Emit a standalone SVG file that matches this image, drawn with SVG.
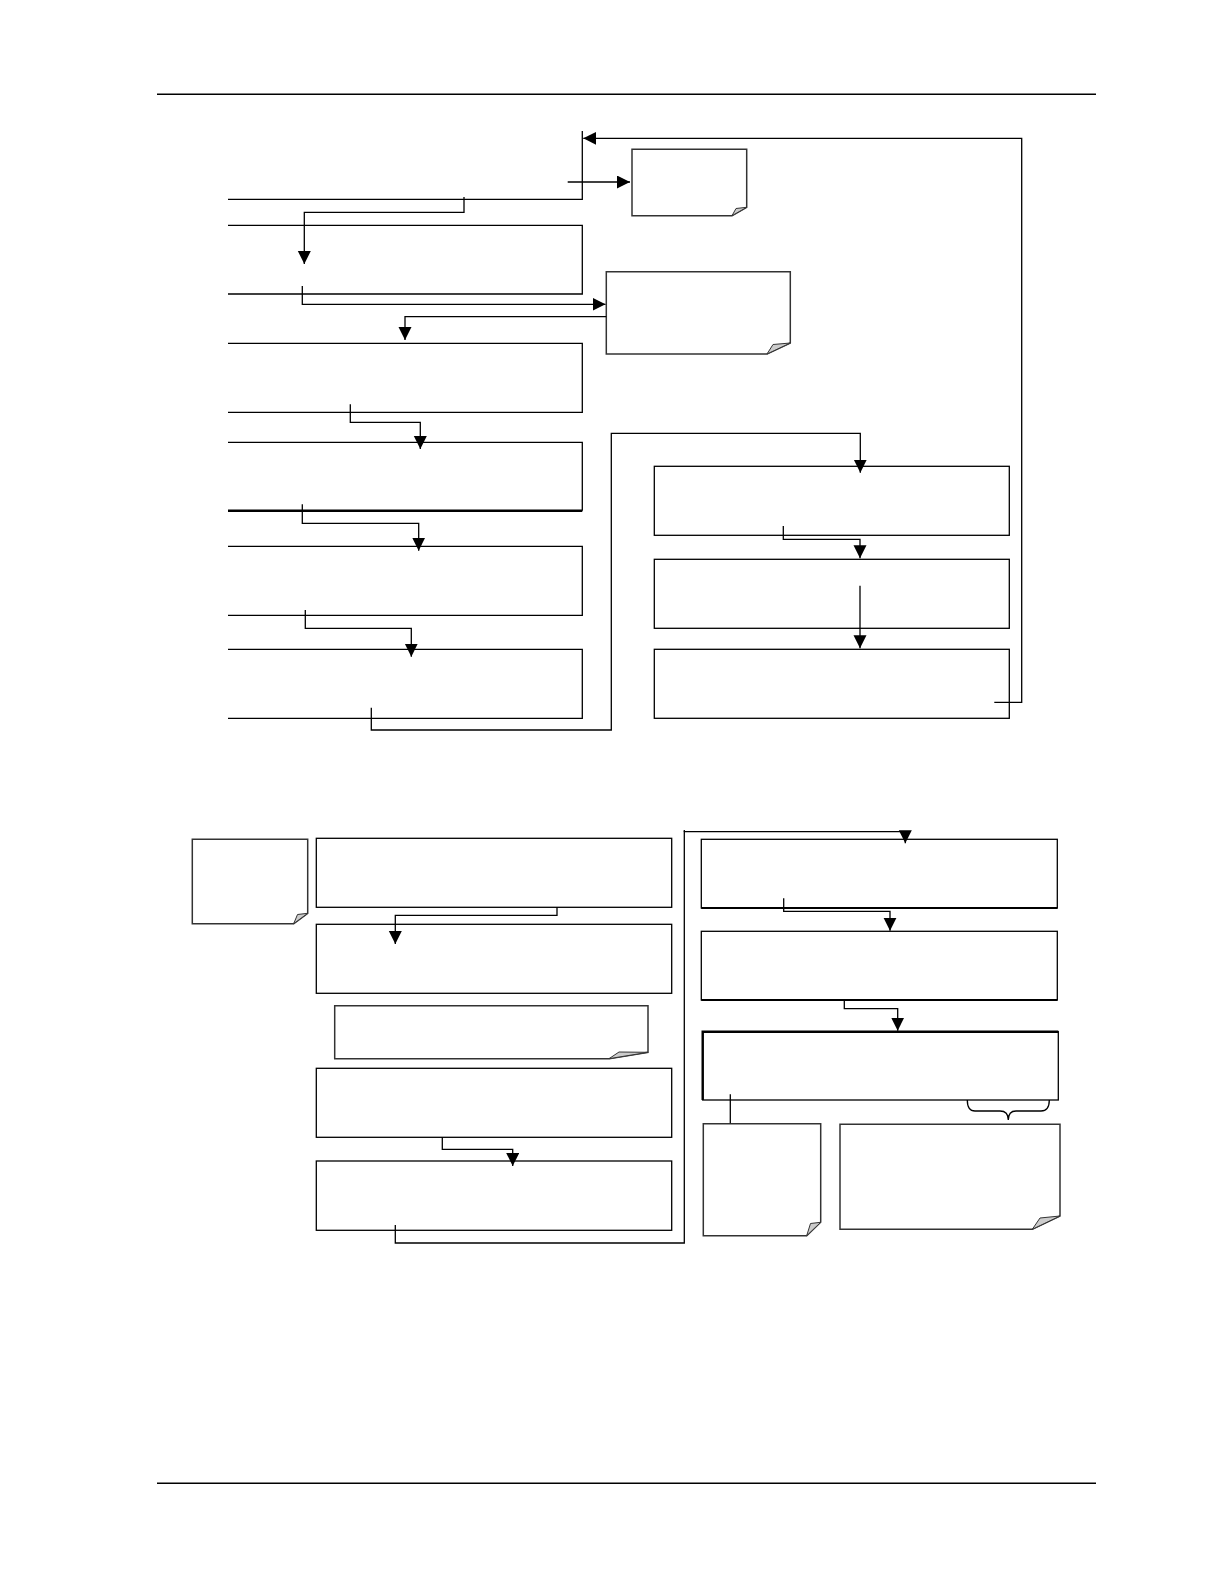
<svg xmlns="http://www.w3.org/2000/svg" width="1224" height="1584" viewBox="0 0 1224 1584">
<style>
.box{fill:none;stroke:#000;stroke-width:1.3}
.note{fill:#fff;stroke:#333;stroke-width:1.5}
.fold{fill:#ccc;stroke:#333;stroke-width:1}
.con{fill:none;stroke:#000;stroke-width:1.3}
.arr{marker-end:url(#ah)}
.rule{stroke:#000;stroke-width:1.5}
</style>
<defs>
<marker id="ah" markerUnits="userSpaceOnUse" markerWidth="15" markerHeight="15" refX="13" refY="6.5" orient="auto">
<path d="M0,0 L13,6.5 L0,13 z" fill="#000"/>
</marker>
</defs>
<rect width="1224" height="1584" fill="#fff"/>
<line class="rule" x1="157" y1="94.3" x2="1096" y2="94.3"/>
<line class="rule" x1="157" y1="1483.3" x2="1096" y2="1483.3"/>

<g id="nodes">
<g id="box0"><path class="box" d="M228,199.3 H582.3 V131"/></g>
<g id="box2"><path class="box" d="M228,225.3 H582.3 V294 H228"/></g>
<g id="box3"><path class="box" d="M228,343.3 H582.3 V412.3 H228"/></g>
<g id="box4"><path class="box" d="M228,442.3 H582.3 V510.7"/><line x1="228" y1="510.7" x2="582.3" y2="510.7" stroke="#000" stroke-width="2.4"/></g>
<g id="box5"><path class="box" d="M228,546.3 H582.3 V615.3 H228"/></g>
<g id="box6"><path class="box" d="M228,649.3 H582.3 V718.3 H228"/></g>

<g id="note1"><path class="note" d="M632,149.3 H746.7 V207.3 L732,215.7 H632 Z"/><path class="fold" d="M732,215.7 L746.7,207.3 L736,208.5 Z"/></g>
<g id="note2"><path class="note" d="M606.3,271.7 H790.3 V343 L767,354 H606.3 Z"/><path class="fold" d="M767,354 L790.3,343 L773,344.5 Z"/></g>

<g id="r1"><rect class="box" x="654.3" y="466.3" width="355" height="69"/></g>
<g id="r2"><rect class="box" x="654.3" y="559.3" width="355" height="69"/></g>
<g id="r3"><rect class="box" x="654.3" y="649.3" width="355" height="69"/></g>

<g id="noteL"><path class="note" d="M192.3,839.3 H307.7 V913.3 L293.7,923.7 H192.3 Z"/><path class="fold" d="M293.7,923.7 L307.7,913.3 L297.5,914.5 Z"/></g>
<g id="b1"><rect class="box" x="316.3" y="838.3" width="355.4" height="69"/></g>
<g id="b2"><rect class="box" x="316.3" y="924.3" width="355.4" height="69"/></g>
<g id="noteB"><path class="note" d="M334.7,1005.7 H648 V1052.3 L609,1058.7 H334.7 Z"/><path class="fold" d="M609,1058.7 L648,1052.3 L619,1052 Z"/></g>
<g id="b3"><rect class="box" x="316.3" y="1068.3" width="355.4" height="69"/></g>
<g id="b4"><rect class="box" x="316.3" y="1161" width="355.4" height="69.3"/></g>

<g id="c1"><rect class="box" x="701.3" y="839.3" width="356" height="68.7"/><line x1="701.3" y1="908" x2="1057.3" y2="908" stroke="#000" stroke-width="2.2"/></g>
<g id="c2"><rect class="box" x="701.3" y="931.3" width="356" height="68.7"/><line x1="701.3" y1="1000" x2="1057.3" y2="1000" stroke="#000" stroke-width="2.2"/></g>
<g id="c3"><rect class="box" x="702.7" y="1031.7" width="355.6" height="68.3"/><path d="M702.7,1100 V1031.7 H1058.3" fill="none" stroke="#000" stroke-width="2.4"/></g>
<g id="c4"><path class="note" d="M703.3,1123.7 H820.7 V1222.3 L806.7,1235.7 H703.3 Z"/><path class="fold" d="M806.7,1235.7 L820.7,1222.3 L810.5,1223.5 Z"/></g>
<g id="c5"><path class="note" d="M840,1124.3 H1060 V1216 L1032.3,1229.3 H840 Z"/><path class="fold" d="M1032.3,1229.3 L1060,1216 L1040,1218 Z"/></g>
</g>

<g id="connectors">
<polyline class="con arr" points="994.3,702.3 1021.7,702.3 1021.7,138.3 583.3,138.3"/>
<polyline class="con arr" points="567.7,182 630,182"/>
<polyline class="con arr" points="464,197 464,212.3 304.3,212.3 304.3,264"/>
<polyline class="con arr" points="302.3,286 302.3,304.3 605.5,304.3"/>
<polyline class="con arr" points="606.3,316.7 405,316.7 405,340"/>
<polyline class="con arr" points="350.3,404.3 350.3,422.3 420.3,422.3 420.3,449"/>
<polyline class="con arr" points="302.3,504.3 302.3,523.3 418.7,523.3 418.7,550.7"/>
<polyline class="con arr" points="305.3,610 305.3,628.3 411.3,628.3 411.3,656.7"/>
<polyline class="con arr" points="371.3,707.7 371.3,730 611.3,730 611.3,433.3 860.3,433.3 860.3,472.7"/>
<polyline class="con arr" points="783.3,526 783.3,539.3 860,539.3 860,558.3"/>
<polyline class="con arr" points="860,585.7 860,648.3"/>
<polyline class="con arr" points="557,907 557,915.3 395.3,915.3 395.3,944"/>
<polyline class="con arr" points="442.3,1137 442.3,1149.3 512.7,1149.3 512.7,1166"/>
<polyline class="con" points="684.3,831.7 684.3,830"/>
<polyline class="con arr" points="395.3,1225 395.3,1243 684.3,1243 684.3,831.7 905.3,831.7 905.3,843.3"/>
<polyline class="con arr" points="783.7,898.3 783.7,911.3 890,911.3 890,930.7"/>
<polyline class="con arr" points="844.3,1000 844.3,1008.7 897.7,1008.7 897.7,1030.7"/>
<polyline class="con" points="730.3,1094.3 730.3,1123.3"/>
<path class="con" d="M967.3,1100 Q967.3,1111 975,1111 L1000,1111 Q1008.3,1111 1008.3,1120 Q1008.3,1111 1016,1111 L1041,1111 Q1049.3,1111 1049.3,1100"/>
</g>
</svg>
